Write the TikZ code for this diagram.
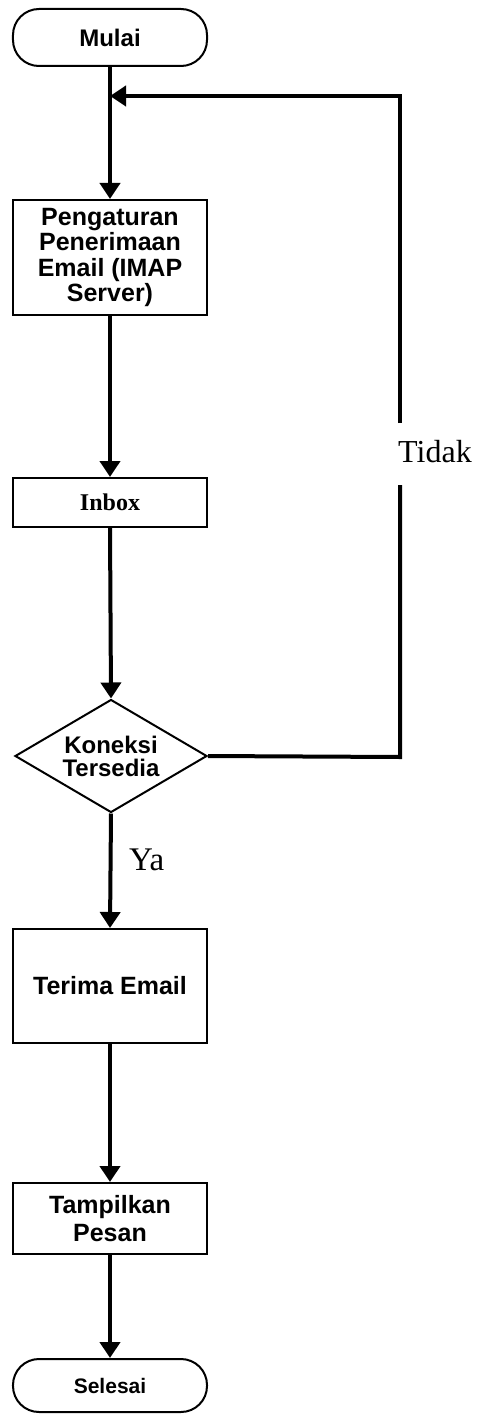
\documentclass[tikz,border=0pt]{standalone}
\usepackage{fontspec}
\setmainfont{Liberation Sans}
\newfontfamily\serifface{Liberation Serif}
\usetikzlibrary{shapes.geometric,arrows.meta}
\begin{document}
\begin{tikzpicture}[x=1bp,y=-1bp,
  box/.style={draw,line width=2bp,minimum width=194bp,inner sep=2bp,
    align=center,font=\bfseries\fontsize{25bp}{25.5bp}\selectfont},
  term/.style={box,rounded corners=26bp},
  decision/.style={draw,diamond,aspect=1.7,line width=2bp,minimum width=192bp,
    minimum height=113bp,inner sep=0pt,align=center,
    font=\bfseries\fontsize{24bp}{23bp}\selectfont},
  flow/.style={line width=4bp,-{Triangle[width=20bp,length=16bp]}},
  link/.style={line width=4bp},
  lbl/.style={font=\serifface\fontsize{32bp}{32bp}\selectfont,inner sep=0pt}]
\useasboundingbox (0,0) rectangle (477,1414);

\node[term,minimum height=57bp,font=\bfseries\fontsize{24bp}{24bp}\selectfont]
  (start) at (110,37.5) {Mulai};
\node[box,minimum height=115bp] (setup) at (110,257.5)
  {Pengaturan\\Penerimaan\\Email (IMAP\\Server)};
\node[box,minimum height=49bp,font=\serifface\bfseries\fontsize{24bp}{24bp}\selectfont]
  (inbox) at (110,502.5) {Inbox};
\node[decision] (check) at (111,756) {Koneksi\\Tersedia};
\node[box,minimum height=114bp] (recv) at (110,986) {Terima Email};
\node[box,minimum height=71bp,font=\bfseries\fontsize{25bp}{28bp}\selectfont]
  (show) at (110,1218.5) {Tampilkan\\Pesan};
\node[term,minimum height=53bp,font=\bfseries\fontsize{21bp}{21bp}\selectfont]
  (stop) at (110,1385.5) {Selesai};

% loop back when no connection is available
\coordinate (join) at (110,96);
\coordinate (turn) at (400,757);
\coordinate (top) at (400,96);
\node[lbl] (no) at (435,452) {Tidak};
\node[lbl,anchor=west,font=\serifface\fontsize{33bp}{33bp}\selectfont]
  (yes) at (129,860) {Ya};

\draw[flow] (start.south) -- (setup.north);
\draw[flow] (setup.south) -- (inbox.north);
\draw[flow] (inbox.south) -- (check.north);
\draw[flow] (check.south) -- (recv.north);
\draw[flow] (recv.south) -- (show.north);
\draw[flow] (show.south) -- (stop.north);

\draw[link] (check.east) -- (turn) -- (turn |- 0,485);
\draw[flow] (top |- 0,423) -- (top) -- (join);
\end{tikzpicture}
\end{document}
